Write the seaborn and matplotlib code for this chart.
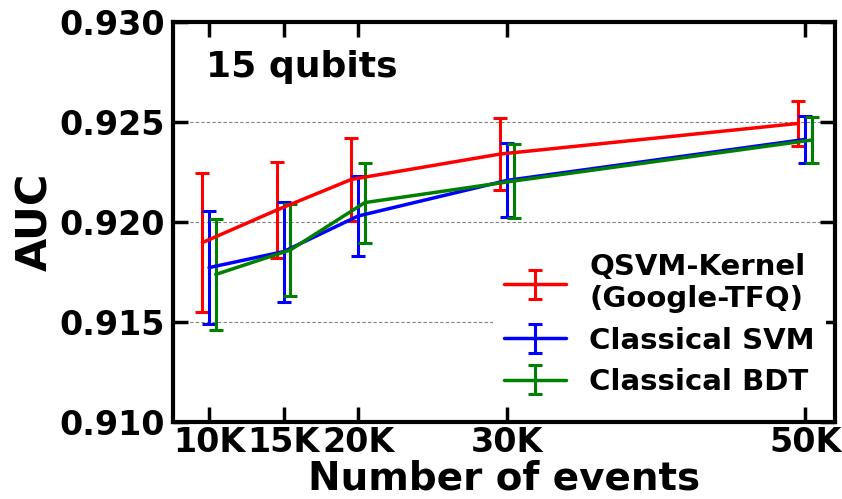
import numpy as np
import pandas as pd
import matplotlib
matplotlib.use("Agg")
import matplotlib.pyplot as plt
import seaborn as sns

# Data
events = [10000, 15000, 20000, 30000, 50000]
tick_labels = ["10K", "15K", "20K", "30K", "50K"]
series_names = ["QSVM-Kernel\n(Google-TFQ)", "Classical SVM", "Classical BDT"]
qsvm_auc = [0.91897, 0.92060, 0.92213, 0.92340, 0.92493]
qsvm_err = [0.00348, 0.00242, 0.00208, 0.00178, 0.00112]
svm_auc = [0.91772, 0.91852, 0.92030, 0.92208, 0.92413]
svm_err = [0.00284, 0.00250, 0.00200, 0.00185, 0.00117]
bdt_auc = [0.91738, 0.91860, 0.92097, 0.92205, 0.92410]
bdt_err = [0.00277, 0.00228, 0.00200, 0.00186, 0.00113]
x_shift = [-450, 0, 450]
colors = ["red", "blue", "green"]

sns.set_theme(style="ticks")
plt.rcParams["font.family"] = ["DejaVu Sans"]
plt.rcParams["font.weight"] = "bold"
plt.rcParams["text.color"] = "black"
plt.rcParams["axes.labelcolor"] = "black"
plt.rcParams["xtick.color"] = "black"
plt.rcParams["ytick.color"] = "black"

fig = plt.figure(figsize=(8.42, 4.99), dpi=100)
ax = fig.add_axes([173/842, 1-422/499, (835-173)/842, (422-22)/499])

df = pd.DataFrame({
    "events": events * 3,
    "auc": qsvm_auc + svm_auc + bdt_auc,
    "err": qsvm_err + svm_err + bdt_err,
    "model": [series_names[0]] * 5 + [series_names[1]] * 5 + [series_names[2]] * 5,
})

for name, shift, c in zip(series_names, x_shift, colors):
    sub = df[df["model"] == name]
    ax.errorbar(sub["events"] + shift, sub["auc"], yerr=sub["err"], color=c,
                lw=2.5, elinewidth=2.2, capsize=5, capthick=2.2, label=name)

for yv in [0.915, 0.920, 0.925]:
    ax.axhline(yv, color="grey", lw=0.8, ls=(0, (3, 2)), zorder=0)

ax.set_xlim(7580, 52000)
ax.set_ylim(0.910, 0.930)
ax.set_xticks(events)
ax.set_xticklabels(tick_labels)
ax.set_yticks([0.910, 0.915, 0.920, 0.925, 0.930])
ax.set_yticklabels(["0.910", "0.915", "0.920", "0.925", "0.930"])
ax.tick_params(direction="in", length=11, width=2.5, labelsize=24, top=True, right=True,
               pad=6, colors="black")
ax.tick_params(axis="x", pad=3)
for lab in ax.get_xticklabels() + ax.get_yticklabels():
    lab.set_fontweight("bold")
for sp in ax.spines.values():
    sp.set_linewidth(3)
    sp.set_color("black")

ax.set_xlabel("Number of events", fontsize=28, fontweight="bold", labelpad=0, color="black")
ax.set_ylabel("AUC", fontsize=31, fontweight="bold", labelpad=2, color="black")
ax.text(0.05, 0.93, "15 qubits", transform=ax.transAxes, fontsize=26,
        fontweight="bold", va="top", ha="left", color="black")

leg = ax.legend(loc="lower right", bbox_to_anchor=(1.009, 0.0), fontsize=21,
                frameon=True, facecolor="white", edgecolor="none", framealpha=1,
                handlelength=2.1, handletextpad=0.8, labelspacing=0.45)
for t in leg.get_texts():
    t.set_fontweight("bold")
    t.set_color("black")

fig.savefig("out.png", dpi=100)
